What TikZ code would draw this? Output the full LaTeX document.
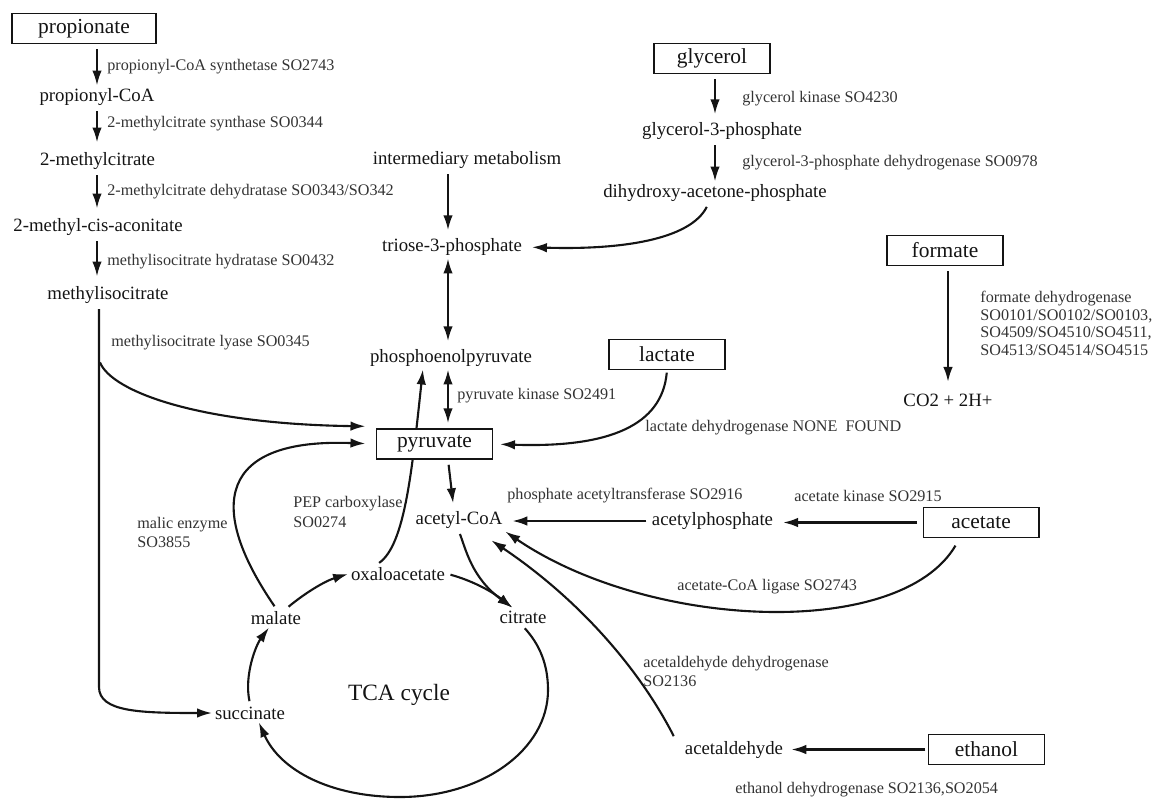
\documentclass[tikz,border=0pt]{standalone}
\usepackage{fontspec}
\setmainfont{Liberation Serif}
\usepackage{xcolor}
\usetikzlibrary{calc}
\usetikzlibrary{arrows.meta}
\usetikzlibrary{backgrounds}
\definecolor{DarkInk}{HTML}{141414}
\definecolor{LabelGray}{HTML}{333333}

\begin{document}
\begin{tikzpicture}[x=0.02cm, y=-0.02cm,
  pool/.style={draw=DarkInk, fill=white, line width=0.6pt, inner sep=0pt, minimum width=2.32cm,
    minimum height=0.6cm, text=DarkInk, font=\fontsize{12.2}{14}\selectfont},
  met/.style={inner sep=1.5pt, text=DarkInk, font=\fontsize{10.7}{12}\selectfont},
  enz/.style={inner sep=0pt, anchor=west, align=left, text=LabelGray,
    font=\fontsize{9.2}{11}\selectfont},
  flux/.style={-{Latex[length=8.5pt,width=5.4pt]}, line width=1.2pt, DarkInk, shorten <=1.5pt},
  rev/.style={{Latex[length=8.5pt,width=5.4pt]}-{Latex[length=8.5pt,width=5.4pt]}, line width=1.2pt, DarkInk}]

  \useasboundingbox (0,0) rectangle (1155,798);

  \coordinate (ColX) at (97,0);
  \coordinate (Fork) at (99,360);
  \coordinate (KinX) at (448,0);
  \coordinate (GlyX) at (715,0);

  \node [pool, minimum width=2.88cm] (Propionate) at (84,28.5) {propionate};
  \node [met] (PropionylCoA) at (97,97) {propionyl-CoA};
  \node [met] (MethylCitrate) at (97.5,161) {2-methylcitrate};
  \node [met] (MethylAconitate) at (98,227) {2-methyl-cis-aconitate};
  \node [met] (MethylIsocitrate) at (108,295) {methylisocitrate};

  \node [enz] (LblPcs) at (107,67) {propionyl-CoA synthetase SO2743};
  \node [enz] (LblMcs) at (107,124) {2-methylcitrate synthase SO0344};
  \node [enz] (LblMcd) at (107,192) {2-methylcitrate dehydratase SO0343/SO342};
  \node [enz] (LblMch) at (107,262) {methylisocitrate hydratase SO0432};
  \node [enz] (LblMcl) at (111,343) {methylisocitrate lyase SO0345};

  \node [pool] (Glycerol) at (712,58.5) {glycerol};
  \node [met] (GlycerolP) at (722,131) {glycerol-3-phosphate};
  \node [met] (Dhap) at (715,193) {dihydroxy-acetone-phosphate};
  \node [enz] (LblGk) at (742,99) {glycerol kinase SO4230};
  \node [enz] (LblGpd) at (742,163) {glycerol-3-phosphate dehydrogenase SO0978};

  \node [met] (Intermediary) at (467,160) {intermediary metabolism};
  \node [met] (Triose) at (452,247) {triose-3-phosphate};
  \node [met] (Pep) at (451,358) {phosphoenolpyruvate};
  \node [pool] (Pyruvate) at (434.5,444) {pyruvate};
  \node [met] (AcetylCoA) at (459,520) {acetyl-CoA};
  \node [enz] (LblPk) at (457,396) {pyruvate kinase SO2491};

  \node [pool] (Formate) at (945,250.5) {formate};
  \node [met] (Carbon) at (948,400) {CO2 + 2H+};
  \node [enz, font=\fontsize{9.2}{10.1}\selectfont] (LblFdh) at (980,323.5)
    {formate dehydrogenase\\SO0101/SO0102/SO0103,\\SO4509/SO4510/SO4511,\\SO4513/SO4514/SO4515};

  \node [pool] (Lactate) at (667,354.5) {lactate};
  \node [enz] (LblLdh) at (645,428) {lactate dehydrogenase NONE\ \ FOUND};

  \node [pool] (Acetate) at (981,522.5) {acetate};
  \node [met] (AcetylP) at (712.5,521) {acetylphosphate};
  \node [enz] (LblPta) at (507,496) {phosphate acetyltransferase SO2916};
  \node [enz] (LblAck) at (794,496) {acetate kinase SO2915};
  \node [enz] (LblAcs) at (677,587) {acetate-CoA ligase SO2743};

  \node [pool] (Ethanol) at (986.5,749.5) {ethanol};
  \node [met] (Acetaldehyde) at (734,750) {acetaldehyde};
  \node [enz] (LblAldh) at (643,671.5) {acetaldehyde dehydrogenase\\SO2136};
  \node [enz] (LblAdh) at (735,790) {ethanol dehydrogenase SO2136,SO2054};

  \node [met] (Oxaloacetate) at (398,574) {oxaloacetate};
  \node [met] (Citrate) at (523,617) {citrate};
  \node [met] (Malate) at (276,618) {malate};
  \node [met] (Succinate) at (250,713) {succinate};
  \node [met, font=\fontsize{13.3}{15}\selectfont] (TcaCycle) at (399,695) {TCA cycle};
  \node [enz] (LblMae) at (137,532.5) {malic enzyme\\SO3855};
  \node [enz] (LblPpc) at (293,512) {PEP carboxylase\\SO0274};

  \draw [flux, shorten <=3pt] (Propionate.south -| ColX) -- (PropionylCoA.north -| ColX);
  \draw [flux, shorten >=4pt] (PropionylCoA.south -| ColX) -- (MethylCitrate.north -| ColX);
  \draw [flux, shorten >=4pt] (MethylCitrate.south -| ColX) -- (MethylAconitate.north -| ColX);
  \draw [flux, shorten >=4pt] (MethylAconitate.south -| ColX) -- (MethylIsocitrate.north -| ColX);

  \draw [flux] (MethylIsocitrate.south -| Fork) -- (99,687)
    .. controls (99,712) and (140,713) .. (Succinate.west);
  \draw [flux, shorten >=6pt] (Fork) .. controls (112,392) and (200,424) .. ([yshift=10pt]Pyruvate.west);
  \draw [flux, shorten >=6pt] (Malate.north) .. controls (205,505) and (220,438) .. (Pyruvate.west);

  \draw [flux, shorten <=3pt, shorten >=3pt] (Glycerol.south -| GlyX) -- (GlycerolP.north -| GlyX);
  \draw [flux] (GlycerolP.south -| GlyX) -- (Dhap.north -| GlyX);
  \draw [flux, shorten >=4pt] ([xshift=-4pt]Dhap.south) .. controls (690,240) and (620,250) .. (Triose.east);

  \draw [flux, shorten >=3pt] (Intermediary.south -| KinX) -- (Triose.north -| KinX);
  \draw [rev, shorten >=3pt] (Triose.south -| KinX) -- (Pep.north -| KinX);
  \draw [rev, shorten >=3pt] (Pep.south -| KinX) -- (Pyruvate.north -| KinX);
  \draw [flux, shorten <=3pt, shorten >=3pt] (Pyruvate.south -| KinX) -- ([xshift=-3pt]AcetylCoA.north);

  \draw [flux, shorten <=3pt, shorten >=5pt] (Formate.south -| Carbon.north) -- (Carbon.north);
  \draw [flux, shorten >=4pt] (Lactate.south) .. controls (662,425) and (610,448) .. (Pyruvate.east);

  \draw [flux, shorten <=3pt, shorten >=4pt] (Acetate.west) -- (Acetate.west -| AcetylP.east);
  \draw [flux, shorten >=4pt] (AcetylP.west) -- (AcetylP.west -| AcetylCoA.east);
  \draw [flux, shorten <=5pt] ([xshift=-12pt]Acetate.south) .. controls (900,640) and (650,630)
    .. (AcetylCoA.south east);
  \draw [flux, shorten >=3pt] (Ethanol.west) -- (Ethanol.west -| Acetaldehyde.east);
  \draw [flux] ([xshift=-4pt]Acetaldehyde.north west) .. controls (640,670) and (580,600)
    .. ([xshift=-8pt,yshift=-5pt]AcetylCoA.south east);

  \draw [flux] (Succinate.north) .. controls (244,675) and (256,645) .. ([xshift=-4pt]Malate.south);
  \draw [flux] ([xshift=6pt]Malate.north) .. controls (305,593) and (325,581) .. (Oxaloacetate.west);
  \draw [flux] (Oxaloacetate.east) .. controls (470,580) and (490,590) .. ([xshift=-6pt]Citrate.north);
  \draw [flux] (AcetylCoA.south) .. controls (466,550) and (472,578) .. ([xshift=-6pt]Citrate.north);
  \draw [flux] (Citrate.south) .. controls (540,645) and (548,665) .. (548,690)
    .. controls (548,750) and (482,797) .. (400,797)
    .. controls (330,797) and (280,770) .. ([xshift=5pt]Succinate.south);
  \begin{scope}[on background layer]
    \draw [flux] ([xshift=-12pt]Oxaloacetate.north) .. controls (405,545) and (412,470)
      .. ([xshift=-16pt]Pep.south);
  \end{scope}
\end{tikzpicture}
\end{document}
